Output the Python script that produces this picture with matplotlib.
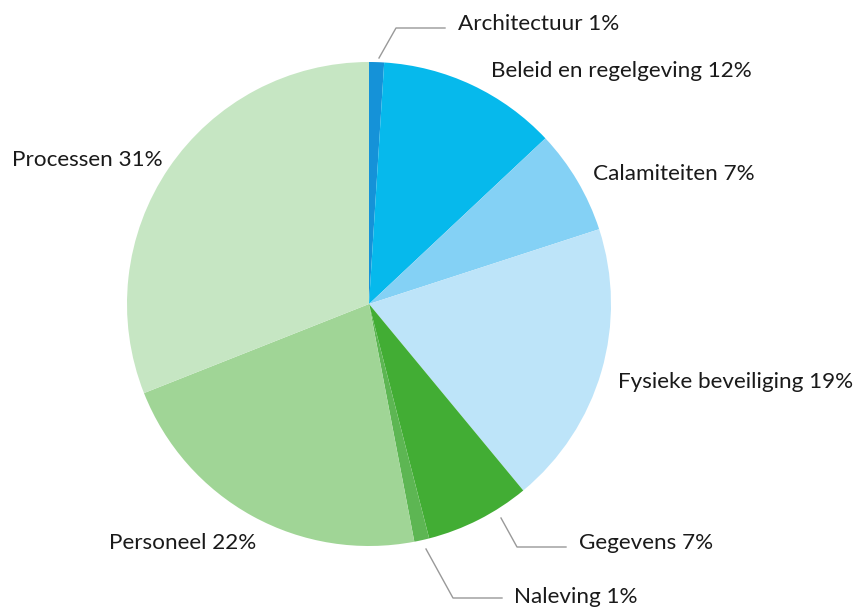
import matplotlib
matplotlib.use("Agg")
import matplotlib.pyplot as plt

labels = ["Architectuur 1%", "Beleid en regelgeving 12%", "Calamiteiten 7%",
          "Fysieke beveiliging 19%", "Gegevens 7%", "Naleving 1%",
          "Personeel 22%", "Processen 31%"]
values = [1, 12, 7, 19, 7, 1, 22, 31]
colors = ["#1592d8", "#06b9ec", "#84d1f5", "#bde4f9",
          "#42ad34", "#5db653", "#a0d596", "#c6e6c3"]

W, H = 854, 607
fig = plt.figure(figsize=(W / 100, H / 100), dpi=100)
ax = fig.add_axes([0, 0, 1, 1])
ax.set_xlim(0, W)
ax.set_ylim(0, H)
ax.set_aspect("equal")
ax.axis("off")

# centre / radius measured in pixels (y from top)
cx, cy, r = 369, 304, 242
ax.pie(values, colors=colors, startangle=90, counterclock=False,
       center=(cx, H - cy), radius=r, wedgeprops=dict(linewidth=0))
ax.set_xlim(0, W)
ax.set_ylim(0, H)

# label anchor positions (x left, y from top)
label_pos = [(458, 24), (491, 71), (593, 174), (618, 382),
             (579, 543), (514, 597), (109, 543), (12, 160)]
for txt, (x, y) in zip(labels, label_pos):
    ax.text(x, H - y, txt, fontsize=16.2, family="Lato", color="#1a1a1a",
            va="center", ha="left")

# leader lines for the small slices
leaders = [
    [(379, 58), (396, 28), (445, 28)],
    [(501, 518), (517, 547), (566, 547)],
    [(426, 549), (453, 598), (502, 598)],
]
for pts in leaders:
    xs = [p[0] for p in pts]
    ys = [H - p[1] for p in pts]
    ax.plot(xs, ys, color="#999999", lw=1)

fig.savefig("out.png", dpi=100)
